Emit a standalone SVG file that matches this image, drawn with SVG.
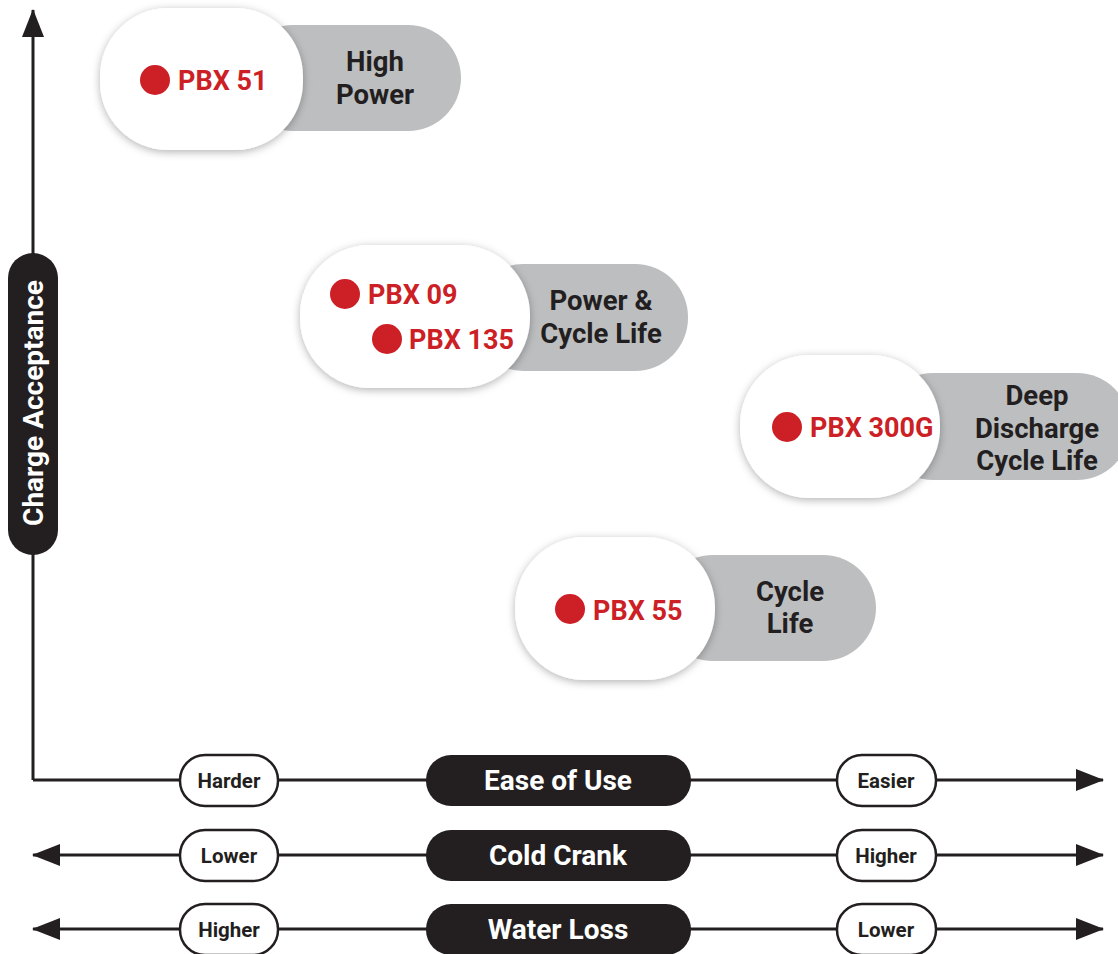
<svg xmlns="http://www.w3.org/2000/svg" width="1118" height="954" viewBox="0 0 1118 954">
<defs>
<filter id="sh" x="-20%" y="-20%" width="140%" height="140%">
<feDropShadow dx="0" dy="2" stdDeviation="4" flood-color="#000" flood-opacity="0.3"/>
</filter>
<marker id="ah" viewBox="0 0 28 22" refX="27" refY="11" markerWidth="28" markerHeight="22" markerUnits="userSpaceOnUse" orient="auto-start-reverse">
<path d="M0,0 L28,11 L0,22 Z" fill="#231f20"/>
</marker>
</defs>
<style>
.ax{stroke:#231f20;stroke-width:3;fill:none}
.gray{fill:#bcbec0}
.white{fill:#fff;filter:url(#sh)}
.dot{fill:#cc1f26}
.prod{font-family:Roboto,"Liberation Sans",sans-serif;font-weight:700;font-size:27px;fill:#cc1f26}
.cat{font-family:Roboto,"Liberation Sans",sans-serif;font-weight:700;font-size:27.5px;fill:#231f20;text-anchor:middle}
.small{fill:#fff;stroke:#231f20;stroke-width:2.5}
.st{font-family:Roboto,"Liberation Sans",sans-serif;font-weight:700;font-size:20.5px;fill:#231f20;text-anchor:middle}
.dark{fill:#231f20}
.lt{font-family:Roboto,"Liberation Sans",sans-serif;font-weight:700;font-size:28px;fill:#fff;text-anchor:middle}
</style>
<g id="connectors">
<path class="ax" d="M33,780 L33,10" marker-end="url(#ah)"/>
<path class="ax" d="M33,780 L1103,780" marker-end="url(#ah)"/>
<path class="ax" d="M33,855 L1103,855" marker-start="url(#ah)" marker-end="url(#ah)"/>
<path class="ax" d="M33,929 L1103,929" marker-start="url(#ah)" marker-end="url(#ah)"/>
</g>
<g id="y-label">
<rect class="dark" x="8" y="253" width="50" height="302" rx="25"/>
<text class="lt" transform="translate(43,403) rotate(-90)" font-size="28">Charge Acceptance</text>
</g>
<g id="node-pbx51">
<rect class="gray" x="240" y="25" width="221" height="106" rx="53"/>
<rect class="white" x="100" y="8" width="203" height="142" rx="68"/>
<circle class="dot" cx="155" cy="80" r="15"/>
<text class="prod" x="178" y="90">PBX 51</text>
<text class="cat" x="375" y="71">High</text>
<text class="cat" x="375" y="104">Power</text>
</g>
<g id="node-pbx09-135">
<rect class="gray" x="470" y="264" width="218" height="107" rx="53"/>
<rect class="white" x="300" y="245" width="230" height="143" rx="70"/>
<circle class="dot" cx="345" cy="294" r="15"/>
<text class="prod" x="368" y="304">PBX 09</text>
<circle class="dot" cx="387" cy="339" r="15"/>
<text class="prod" x="409" y="349">PBX 135</text>
<text class="cat" x="601" y="310">Power &amp;</text>
<text class="cat" x="601" y="343">Cycle Life</text>
</g>
<g id="node-pbx300g">
<rect class="gray" x="880" y="373" width="250" height="107" rx="53"/>
<rect class="white" x="740" y="355" width="200" height="143" rx="70"/>
<circle class="dot" cx="787" cy="427" r="15"/>
<text class="prod" x="810" y="437">PBX 300G</text>
<text class="cat" x="1037" y="405">Deep</text>
<text class="cat" x="1037" y="438">Discharge</text>
<text class="cat" x="1037" y="470">Cycle Life</text>
</g>
<g id="node-pbx55">
<rect class="gray" x="660" y="555" width="216" height="106" rx="53"/>
<rect class="white" x="515" y="537" width="200" height="143" rx="70"/>
<circle class="dot" cx="570" cy="609" r="15"/>
<text class="prod" x="593" y="620">PBX 55</text>
<text class="cat" x="790" y="601">Cycle</text>
<text class="cat" x="790" y="633">Life</text>
</g>
<g id="row-ease">
<rect class="small" x="180" y="755" width="98" height="51" rx="25"/>
<text class="st" x="229" y="788">Harder</text>
<rect class="dark" x="426" y="755" width="265" height="51" rx="25"/>
<text class="lt" x="558" y="790">Ease of Use</text>
<rect class="small" x="837" y="755" width="99" height="51" rx="25"/>
<text class="st" x="886" y="788">Easier</text>
</g>
<g id="row-cold">
<rect class="small" x="180" y="830" width="98" height="51" rx="25"/>
<text class="st" x="229" y="863">Lower</text>
<rect class="dark" x="426" y="830" width="265" height="51" rx="25"/>
<text class="lt" x="558" y="865">Cold Crank</text>
<rect class="small" x="837" y="830" width="99" height="51" rx="25"/>
<text class="st" x="886" y="863">Higher</text>
</g>
<g id="row-water">
<rect class="small" x="180" y="904" width="98" height="51" rx="25"/>
<text class="st" x="229" y="937">Higher</text>
<rect class="dark" x="426" y="904" width="265" height="51" rx="25"/>
<text class="lt" x="558" y="939">Water Loss</text>
<rect class="small" x="837" y="904" width="99" height="51" rx="25"/>
<text class="st" x="886" y="937">Lower</text>
</g>
</svg>
